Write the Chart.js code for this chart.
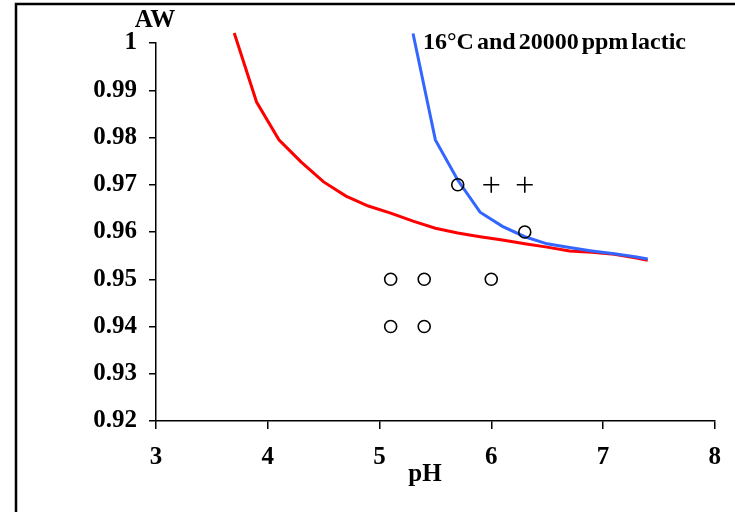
<!DOCTYPE html>
<html>
<head>
<meta charset="utf-8">
<script src="https://cdn.jsdelivr.net/npm/chart.js@4/dist/chart.umd.min.js"></script>
<style>
  html, body { margin: 0; padding: 0; background: #fff; }
  #wrap { width: 735px; height: 512px; position: relative; }
</style>
</head>
<body>
<div id="wrap"><canvas id="awChart" width="735" height="512"></canvas></div>
<script>
// pH / Aw growth boundary at 16°C, 20000 ppm lactic
const redPH = [3.7, 3.9, 4.1, 4.3, 4.5, 4.7, 4.9, 5.1, 5.3, 5.5, 5.7, 5.9, 6.1, 6.3, 6.5, 6.7, 6.9, 7.1, 7.3, 7.4];
const redAW = [1.0021, 0.9875, 0.9795, 0.9748, 0.9706, 0.9676, 0.9655, 0.964, 0.9623, 0.9608, 0.9598, 0.959, 0.9583, 0.9575, 0.9568, 0.956, 0.9557, 0.9553, 0.9545, 0.954];
const bluePH = [5.3, 5.5, 5.7, 5.9, 6.1, 6.3, 6.5, 6.7, 6.9, 7.1, 7.3, 7.4];
const blueAW = [1.002, 0.9795, 0.971, 0.9642, 0.9612, 0.959, 0.9575, 0.9567, 0.956, 0.9554, 0.9547, 0.9543];
// observed: no growth (circles) and growth (crosses)
const circlePH = [5.7, 6.3, 5.1, 5.4, 6.0, 5.1, 5.4];
const circleAW = [0.97, 0.96, 0.95, 0.95, 0.95, 0.94, 0.94];
const plusPH = [6.0, 6.3];
const plusAW = [0.97, 0.97];
const xTicks = [3, 4, 5, 6, 7, 8];
const yTicks = [0.92, 0.93, 0.94, 0.95, 0.96, 0.97, 0.98, 0.99, 1];

const FONT = "'Liberation Serif', 'Times New Roman', serif";

function toPoints(xs, ys) {
  return xs.map((x, i) => ({ x: x, y: ys[i] }));
}

// frame + free text labels
const extras = {
  id: 'extras',
  beforeDraw(chart) {
    const ctx = chart.ctx;
    ctx.save();
    ctx.fillStyle = '#fff';
    ctx.fillRect(0, 0, chart.width, chart.height);
    ctx.strokeStyle = '#000';
    ctx.lineWidth = 2.5;
    ctx.beginPath();
    ctx.moveTo(16, 520);
    ctx.lineTo(16, 4);
    ctx.lineTo(760, 4);
    ctx.stroke();
    ctx.restore();
  },
  afterDraw(chart) {
    const ctx = chart.ctx;
    ctx.save();
    ctx.fillStyle = '#000';
    ctx.textBaseline = 'middle';
    ctx.textAlign = 'center';
    ctx.font = 'bold 25px ' + FONT;
    ctx.fillText('AW', 155, 21);
    ctx.fillText('pH', 425, 475);
    ctx.textAlign = 'left';
    ctx.font = 'bold 24px ' + FONT;
    ctx.wordSpacing = '-3px';
    ctx.fillText('16°C and 20000 ppm lactic', 423, 43);
    ctx.restore();
  },
};

const tickFont = { family: FONT, size: 25, weight: 'bold' };

new Chart(document.getElementById('awChart'), {
  type: 'scatter',
  data: {
    datasets: [
      {
        label: 'no growth',
        data: toPoints(circlePH, circleAW),
        pointStyle: 'circle',
        pointRadius: 6,
        borderColor: '#000',
        backgroundColor: 'rgba(0,0,0,0)',
        borderWidth: 1.6,
      },
      {
        label: 'growth',
        data: toPoints(plusPH, plusAW),
        pointStyle: 'cross',
        pointRadius: 8,
        borderColor: '#000',
        borderWidth: 1.6,
      },
      {
        label: 'model 2',
        data: toPoints(bluePH, blueAW),
        showLine: true,
        pointRadius: 0,
        borderColor: '#3366ff',
        borderWidth: 3,
        clip: false,
      },
      {
        label: 'model 1',
        data: toPoints(redPH, redAW),
        showLine: true,
        pointRadius: 0,
        borderColor: '#ff0000',
        borderWidth: 3,
        clip: false,
      },
    ],
  },
  options: {
    responsive: false,
    animation: false,
    layout: { padding: { top: 43, right: 19, left: 0, bottom: 0 } },
    plugins: {
      legend: { display: false },
      tooltip: { enabled: false },
    },
    scales: {
      x: {
        type: 'linear',
        min: 3,
        max: 8,
        afterBuildTicks: (axis) => {
          axis.ticks = xTicks.map((v) => ({ value: v }));
        },
        afterFit: (axis) => {
          axis.height = 91;
        },
        ticks: { font: tickFont, color: '#000', padding: 14 },
        grid: { drawOnChartArea: false, tickLength: 8, color: '#000', lineWidth: 1.5 },
        border: { color: '#000', width: 1.5 },
      },
      y: {
        min: 0.92,
        max: 1,
        afterBuildTicks: (axis) => {
          axis.ticks = yTicks.map((v) => ({ value: v }));
        },
        afterFit: (axis) => {
          axis.width = 156;
        },
        ticks: {
          font: tickFont,
          color: '#000',
          padding: 12,
          callback: (v) => (v === 1 ? '1' : v.toFixed(2)),
        },
        grid: { drawOnChartArea: false, tickLength: 7, color: '#000', lineWidth: 1.5 },
        border: { color: '#000', width: 1.5 },
      },
    },
  },
  plugins: [extras],
});
</script>
</body>
</html>
